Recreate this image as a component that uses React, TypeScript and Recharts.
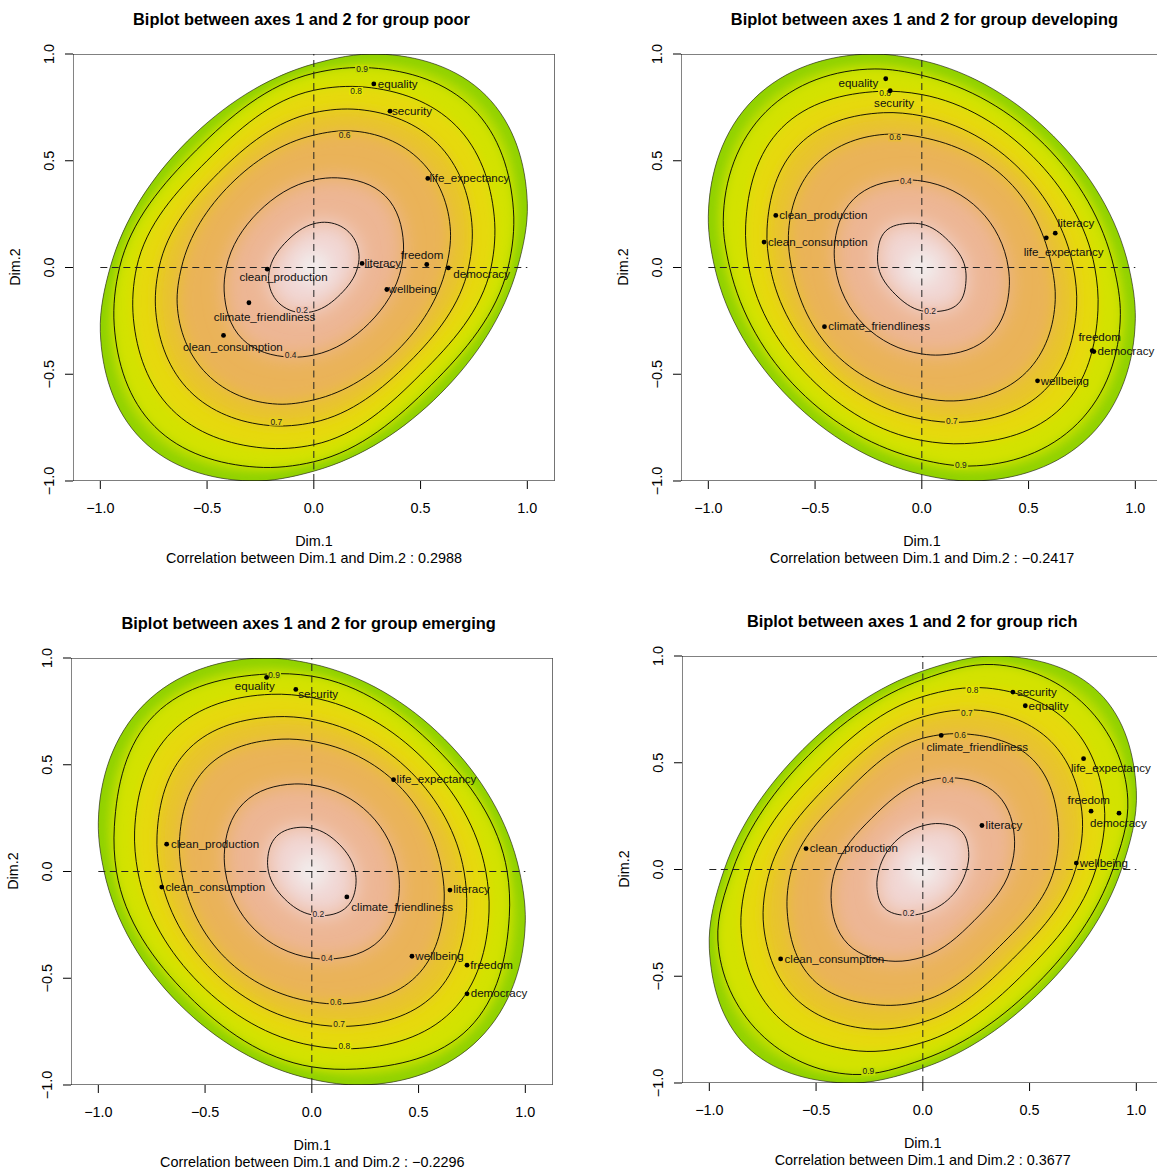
import React from "react";
import { ComposedChart, Scatter, XAxis, YAxis } from "recharts";

type Pt = [number, number];
type Variable = { name: string; x: number; y: number; lx: number; ly: number };
type LevelLabel = { text: string; level: number; x: number; y: number };

// contour levels, outermost first (1.0 = edge of the coloured region)
const LEVELS = [1.0, 0.9, 0.8, 0.7, 0.6, 0.4, 0.2];
const AXIS_TICKS = [-1, -0.5, 0, 0.5, 1];
const AXIS_TICK_LABELS = ["\u22121.0", "\u22120.5", "0.0", "0.5", "1.0"];
const X_LIMIT = 1.128;
const K = 213.5; // px per unit

// ---------- group poor ----------
const poorContours: Pt[][] = [
  [[0.954, 0], [1.0, 0.3], [0.806, 0.806], [0.3, 1.0], [0, 0.954], [-0.592, 0.592], [-0.954, 0], [-1.0, -0.3], [-0.806, -0.806], [-0.3, -1.0], [0, -0.954], [0.592, -0.592]],
  [[0.91, 0], [0.935, 0.27], [0.745, 0.745], [0.27, 0.935], [0, 0.91], [-0.55, 0.55], [-0.91, 0], [-0.935, -0.27], [-0.745, -0.745], [-0.27, -0.935], [0, -0.91], [0.55, -0.55]],
  [[0.83, 0], [0.845, 0.24], [0.665, 0.665], [0.24, 0.845], [0, 0.83], [-0.5, 0.5], [-0.83, 0], [-0.845, -0.24], [-0.665, -0.665], [-0.24, -0.845], [0, -0.83], [0.5, -0.5]],
  [[0.725, 0], [0.74, 0.21], [0.58, 0.58], [0.21, 0.74], [0, 0.725], [-0.445, 0.445], [-0.725, 0], [-0.74, -0.21], [-0.58, -0.58], [-0.21, -0.74], [0, -0.725], [0.445, -0.445]],
  [[0.62, 0], [0.64, 0.17], [0.5, 0.5], [0.17, 0.64], [0, 0.62], [-0.39, 0.39], [-0.62, 0], [-0.64, -0.17], [-0.5, -0.5], [-0.17, -0.64], [0, -0.62], [0.39, -0.39]],
  [[0.41, 0], [0.42, 0.11], [0.335, 0.335], [0.11, 0.42], [0, 0.41], [-0.26, 0.26], [-0.41, 0], [-0.42, -0.11], [-0.335, -0.335], [-0.11, -0.42], [0, -0.41], [0.26, -0.26]],
  [[0.205, 0], [0.212, 0.05], [0.165, 0.165], [0.05, 0.212], [0, 0.205], [-0.125, 0.125], [-0.205, 0], [-0.212, -0.05], [-0.165, -0.165], [-0.05, -0.212], [0, -0.205], [0.125, -0.125]],
];
const poorVariables: Variable[] = [
  { name: "equality", x: 0.281, y: 0.86, lx: 0.393, ly: 0.86 },
  { name: "security", x: 0.357, y: 0.732, lx: 0.46, ly: 0.732 },
  { name: "life_expectancy", x: 0.534, y: 0.417, lx: 0.729, ly: 0.418 },
  { name: "literacy", x: 0.226, y: 0.019, lx: 0.323, ly: 0.022 },
  { name: "freedom", x: 0.529, y: 0.014, lx: 0.507, ly: 0.058 },
  { name: "democracy", x: 0.63, y: -0.002, lx: 0.786, ly: -0.031 },
  { name: "wellbeing", x: 0.342, y: -0.103, lx: 0.463, ly: -0.101 },
  { name: "clean_production", x: -0.218, y: -0.008, lx: -0.142, ly: -0.044 },
  { name: "climate_friendliness", x: -0.304, y: -0.165, lx: -0.231, ly: -0.231 },
  { name: "clean_consumption", x: -0.423, y: -0.318, lx: -0.379, ly: -0.374 },
];
const poorLevelLabels: LevelLabel[] = [
  { text: "0.9", level: 0.9, x: 0.226, y: 0.931 },
  { text: "0.8", level: 0.8, x: 0.198, y: 0.827 },
  { text: "0.6", level: 0.6, x: 0.144, y: 0.619 },
  { text: "0.2", level: 0.2, x: -0.055, y: -0.2 },
  { text: "0.4", level: 0.4, x: -0.109, y: -0.41 },
  { text: "0.7", level: 0.7, x: -0.176, y: -0.722 },
];

// ---------- group developing ----------
const developingContours: Pt[][] = [
  [[1.0, -0.24], [0.97, 0], [0.616, 0.616], [0, 0.97], [-0.24, 1.0], [-0.788, 0.788], [-1.0, 0.24], [-0.97, 0], [-0.616, -0.616], [0, -0.97], [0.24, -1.0], [0.788, -0.788]],
  [[0.93, -0.22], [0.9, 0], [0.575, 0.575], [0, 0.9], [-0.22, 0.93], [-0.73, 0.73], [-0.93, 0.22], [-0.9, 0], [-0.575, -0.575], [0, -0.9], [0.22, -0.93], [0.73, -0.73]],
  [[0.825, -0.2], [0.81, 0], [0.52, 0.52], [0, 0.81], [-0.2, 0.825], [-0.655, 0.655], [-0.825, 0.2], [-0.81, 0], [-0.52, -0.52], [0, -0.81], [0.2, -0.825], [0.655, -0.655]],
  [[0.725, -0.18], [0.71, 0], [0.46, 0.46], [0, 0.71], [-0.18, 0.725], [-0.575, 0.575], [-0.725, 0.18], [-0.71, 0], [-0.46, -0.46], [0, -0.71], [0.18, -0.725], [0.575, -0.575]],
  [[0.625, -0.15], [0.61, 0], [0.405, 0.405], [0, 0.61], [-0.15, 0.625], [-0.49, 0.49], [-0.625, 0.15], [-0.61, 0], [-0.405, -0.405], [0, -0.61], [0.15, -0.625], [0.49, -0.49]],
  [[0.41, -0.085], [0.405, 0], [0.27, 0.27], [0, 0.405], [-0.085, 0.41], [-0.32, 0.32], [-0.41, 0.085], [-0.405, 0], [-0.27, -0.27], [0, -0.405], [0.085, -0.41], [0.32, -0.32]],
  [[0.207, -0.06], [0.203, 0], [0.125, 0.125], [0, 0.203], [-0.06, 0.207], [-0.17, 0.17], [-0.207, 0.06], [-0.203, 0], [-0.125, -0.125], [0, -0.203], [0.06, -0.207], [0.17, -0.17]],
];
const developingVariables: Variable[] = [
  { name: "equality", x: -0.169, y: 0.884, lx: -0.297, ly: 0.862 },
  { name: "security", x: -0.148, y: 0.828, lx: -0.13, ly: 0.769 },
  { name: "clean_production", x: -0.684, y: 0.244, lx: -0.461, ly: 0.244 },
  { name: "clean_consumption", x: -0.739, y: 0.119, lx: -0.487, ly: 0.119 },
  { name: "literacy", x: 0.625, y: 0.161, lx: 0.722, ly: 0.208 },
  { name: "life_expectancy", x: 0.583, y: 0.139, lx: 0.664, ly: 0.072 },
  { name: "climate_friendliness", x: -0.456, y: -0.277, lx: -0.2, ly: -0.275 },
  { name: "freedom", x: 0.798, y: -0.39, lx: 0.833, ly: -0.327 },
  { name: "democracy", x: 0.806, y: -0.394, lx: 0.956, ly: -0.392 },
  { name: "wellbeing", x: 0.542, y: -0.531, lx: 0.67, ly: -0.531 },
];
const developingLevelLabels: LevelLabel[] = [
  { text: "0.8", level: 0.8, x: -0.172, y: 0.819 },
  { text: "0.6", level: 0.6, x: -0.125, y: 0.609 },
  { text: "0.4", level: 0.4, x: -0.075, y: 0.405 },
  { text: "0.2", level: 0.2, x: 0.039, y: -0.203 },
  { text: "0.7", level: 0.7, x: 0.141, y: -0.719 },
  { text: "0.9", level: 0.9, x: 0.183, y: -0.927 },
];

// ---------- group emerging ----------
const emergingContours: Pt[][] = [
  [[1.0, -0.23], [0.973, 0], [0.621, 0.621], [0, 0.973], [-0.23, 1.0], [-0.784, 0.784], [-1.0, 0.23], [-0.973, 0], [-0.621, -0.621], [0, -0.973], [0.23, -1.0], [0.784, -0.784]],
  [[0.925, -0.21], [0.915, 0], [0.58, 0.58], [0, 0.915], [-0.21, 0.925], [-0.735, 0.735], [-0.925, 0.21], [-0.915, 0], [-0.58, -0.58], [0, -0.915], [0.21, -0.925], [0.735, -0.735]],
  [[0.83, -0.19], [0.815, 0], [0.525, 0.525], [0, 0.815], [-0.19, 0.83], [-0.655, 0.655], [-0.83, 0.19], [-0.815, 0], [-0.525, -0.525], [0, -0.815], [0.19, -0.83], [0.655, -0.655]],
  [[0.725, -0.17], [0.713, 0], [0.465, 0.465], [0, 0.713], [-0.17, 0.725], [-0.575, 0.575], [-0.725, 0.17], [-0.713, 0], [-0.465, -0.465], [0, -0.713], [0.17, -0.725], [0.575, -0.575]],
  [[0.62, -0.14], [0.61, 0], [0.405, 0.405], [0, 0.61], [-0.14, 0.62], [-0.49, 0.49], [-0.62, 0.14], [-0.61, 0], [-0.405, -0.405], [0, -0.61], [0.14, -0.62], [0.49, -0.49]],
  [[0.41, -0.08], [0.405, 0], [0.27, 0.27], [0, 0.405], [-0.08, 0.41], [-0.32, 0.32], [-0.41, 0.08], [-0.405, 0], [-0.27, -0.27], [0, -0.405], [0.08, -0.41], [0.32, -0.32]],
  [[0.207, -0.055], [0.203, 0], [0.128, 0.128], [0, 0.203], [-0.055, 0.207], [-0.165, 0.165], [-0.207, 0.055], [-0.203, 0], [-0.128, -0.128], [0, -0.203], [0.055, -0.207], [0.165, -0.165]],
];
const emergingVariables: Variable[] = [
  { name: "equality", x: -0.212, y: 0.909, lx: -0.267, ly: 0.867 },
  { name: "security", x: -0.075, y: 0.853, lx: 0.03, ly: 0.831 },
  { name: "life_expectancy", x: 0.383, y: 0.43, lx: 0.584, ly: 0.433 },
  { name: "clean_production", x: -0.68, y: 0.128, lx: -0.453, ly: 0.131 },
  { name: "clean_consumption", x: -0.703, y: -0.073, lx: -0.452, ly: -0.072 },
  { name: "literacy", x: 0.647, y: -0.087, lx: 0.748, ly: -0.084 },
  { name: "climate_friendliness", x: 0.164, y: -0.119, lx: 0.423, ly: -0.164 },
  { name: "wellbeing", x: 0.469, y: -0.397, lx: 0.598, ly: -0.394 },
  { name: "freedom", x: 0.727, y: -0.439, lx: 0.842, ly: -0.436 },
  { name: "democracy", x: 0.727, y: -0.573, lx: 0.877, ly: -0.57 },
];
const emergingLevelLabels: LevelLabel[] = [
  { text: "0.9", level: 0.9, x: -0.177, y: 0.92 },
  { text: "0.2", level: 0.2, x: 0.03, y: -0.2 },
  { text: "0.4", level: 0.4, x: 0.07, y: -0.406 },
  { text: "0.6", level: 0.6, x: 0.112, y: -0.612 },
  { text: "0.7", level: 0.7, x: 0.128, y: -0.712 },
  { text: "0.8", level: 0.8, x: 0.152, y: -0.817 },
];

// ---------- group rich ----------
const richContours: Pt[][] = [
  [[0.93, 0], [1.0, 0.37], [0.827, 0.827], [0.37, 1.0], [0, 0.93], [-0.562, 0.562], [-0.93, 0], [-1.0, -0.37], [-0.827, -0.827], [-0.37, -1.0], [0, -0.93], [0.562, -0.562]],
  [[0.89, 0], [0.96, 0.33], [0.765, 0.765], [0.33, 0.96], [0, 0.89], [-0.535, 0.535], [-0.89, 0], [-0.96, -0.33], [-0.765, -0.765], [-0.33, -0.96], [0, -0.89], [0.535, -0.535]],
  [[0.81, 0], [0.85, 0.3], [0.685, 0.685], [0.3, 0.85], [0, 0.81], [-0.48, 0.48], [-0.81, 0], [-0.85, -0.3], [-0.685, -0.685], [-0.3, -0.85], [0, -0.81], [0.48, -0.48]],
  [[0.715, 0], [0.745, 0.27], [0.6, 0.6], [0.27, 0.745], [0, 0.715], [-0.42, 0.42], [-0.715, 0], [-0.745, -0.27], [-0.6, -0.6], [-0.27, -0.745], [0, -0.715], [0.42, -0.42]],
  [[0.615, 0], [0.635, 0.2], [0.515, 0.515], [0.2, 0.635], [0, 0.615], [-0.36, 0.36], [-0.615, 0], [-0.635, -0.2], [-0.515, -0.515], [-0.2, -0.635], [0, -0.615], [0.36, -0.36]],
  [[0.41, 0], [0.43, 0.13], [0.35, 0.35], [0.13, 0.43], [0, 0.41], [-0.24, 0.24], [-0.41, 0], [-0.43, -0.13], [-0.35, -0.35], [-0.13, -0.43], [0, -0.41], [0.24, -0.24]],
  [[0.205, 0], [0.215, 0.08], [0.18, 0.18], [0.08, 0.215], [0, 0.205], [-0.13, 0.13], [-0.205, 0], [-0.215, -0.08], [-0.18, -0.18], [-0.08, -0.215], [0, -0.205], [0.13, -0.13]],
];
const richVariables: Variable[] = [
  { name: "security", x: 0.422, y: 0.831, lx: 0.534, ly: 0.831 },
  { name: "equality", x: 0.48, y: 0.767, lx: 0.589, ly: 0.767 },
  { name: "climate_friendliness", x: 0.086, y: 0.628, lx: 0.255, ly: 0.573 },
  { name: "life_expectancy", x: 0.753, y: 0.519, lx: 0.881, ly: 0.477 },
  { name: "freedom", x: 0.788, y: 0.273, lx: 0.777, ly: 0.327 },
  { name: "democracy", x: 0.919, y: 0.264, lx: 0.916, ly: 0.219 },
  { name: "literacy", x: 0.277, y: 0.206, lx: 0.38, ly: 0.209 },
  { name: "clean_production", x: -0.547, y: 0.098, lx: -0.323, ly: 0.1 },
  { name: "wellbeing", x: 0.719, y: 0.03, lx: 0.848, ly: 0.031 },
  { name: "clean_consumption", x: -0.666, y: -0.419, lx: -0.414, ly: -0.419 },
];
const richLevelLabels: LevelLabel[] = [
  { text: "0.8", level: 0.8, x: 0.233, y: 0.839 },
  { text: "0.7", level: 0.7, x: 0.206, y: 0.734 },
  { text: "0.6", level: 0.6, x: 0.175, y: 0.628 },
  { text: "0.4", level: 0.4, x: 0.117, y: 0.417 },
  { text: "0.2", level: 0.2, x: -0.067, y: -0.205 },
  { text: "0.9", level: 0.9, x: -0.255, y: -0.945 },
];

const BOX_CORNERS: Pt[] = [[-X_LIMIT, -1], [X_LIMIT, -1], [X_LIMIT, 1], [-X_LIMIT, 1]];
const H_GUIDE: Pt[] = [[-1, 0], [1, 0]];
const V_GUIDE: Pt[] = [[0, -1], [0, 1]];

type PanelSpec = {
  id: string;
  title: string;
  correlation: string;
  cx: number;
  cy: number;
  titleX: number;
  contours: Pt[][];
  variables: Variable[];
  levelLabels: LevelLabel[];
};

const panels: PanelSpec[] = [
  { id: "poor", title: "Biplot between axes 1 and 2 for group poor", correlation: "Correlation between Dim.1 and Dim.2 : 0.2988", cx: 314, cy: 267.3, titleX: 301.5, contours: poorContours, variables: poorVariables, levelLabels: poorLevelLabels },
  { id: "developing", title: "Biplot between axes 1 and 2 for group developing", correlation: "Correlation between Dim.1 and Dim.2 : \u22120.2417", cx: 922, cy: 267.3, titleX: 924.4, contours: developingContours, variables: developingVariables, levelLabels: developingLevelLabels },
  { id: "emerging", title: "Biplot between axes 1 and 2 for group emerging", correlation: "Correlation between Dim.1 and Dim.2 : \u22120.2296", cx: 312.3, cy: 871, titleX: 308.6, contours: emergingContours, variables: emergingVariables, levelLabels: emergingLevelLabels },
  { id: "rich", title: "Biplot between axes 1 and 2 for group rich", correlation: "Correlation between Dim.1 and Dim.2 : 0.3677", cx: 922.7, cy: 869, titleX: 912.2, contours: richContours, variables: richVariables, levelLabels: richLevelLabels },
];

// R terrain.colors, reversed: 0 -> near white, 1 -> green
function hsv(h: number, s: number, v: number) {
  const c = v * s;
  const hp = h / 60;
  const x = c * (1 - Math.abs((hp % 2) - 1));
  let r = 0, g = 0, b = 0;
  if (hp < 1) [r, g, b] = [c, x, 0];
  else if (hp < 2) [r, g, b] = [x, c, 0];
  else [r, g, b] = [0, c, x];
  const m = v - c;
  return `rgb(${Math.round((r + m) * 255)},${Math.round((g + m) * 255)},${Math.round((b + m) * 255)})`;
}
function terrain(level: number) {
  const t = Math.min(1, Math.max(0, 1 - 0.625 * level));
  if (t < 0.5) {
    const u = t / 0.5;
    return hsv(120 - 60 * u, 1, 0.65 + 0.25 * u);
  }
  const w = (t - 0.5) / 0.5;
  return hsv(60 - 60 * w, 1 - w, 0.9 + 0.05 * w);
}

// closed smooth path through the projected points (Bessel tangents, arc-like handles)
type XY = { x: number; y: number };
function smoothClosed(pts: XY[]) {
  const n = pts.length;
  const dist = (a: XY, b: XY) => Math.hypot(b.x - a.x, b.y - a.y) || 1e-6;
  const tan = pts.map((p, i) => {
    const prev = pts[(i - 1 + n) % n];
    const next = pts[(i + 1) % n];
    const d1 = dist(prev, p);
    const d2 = dist(p, next);
    const vx = ((p.x - prev.x) / d1) * (d2 / (d1 + d2)) + ((next.x - p.x) / d2) * (d1 / (d1 + d2));
    const vy = ((p.y - prev.y) / d1) * (d2 / (d1 + d2)) + ((next.y - p.y) / d2) * (d1 / (d1 + d2));
    const m = Math.hypot(vx, vy) || 1;
    return { x: vx / m, y: vy / m };
  });
  let d = `M${pts[0].x},${pts[0].y}`;
  for (let i = 0; i < n; i++) {
    const a = pts[i];
    const b = pts[(i + 1) % n];
    const c = dist(a, b);
    const ux = (b.x - a.x) / c;
    const uy = (b.y - a.y) / c;
    const ta = tan[i];
    const tb = tan[(i + 1) % n];
    const ca = Math.max(0.5, ta.x * ux + ta.y * uy);
    const cb = Math.max(0.5, tb.x * ux + tb.y * uy);
    const ka = (2 * c) / (3 * (1 + ca));
    const kb = (2 * c) / (3 * (1 + cb));
    d += `C${a.x + ta.x * ka},${a.y + ta.y * ka} ${b.x - tb.x * kb},${b.y - tb.y * kb} ${b.x},${b.y}`;
  }
  return d + "Z";
}

const BLURS = [4, 5, 6, 8, 10];
const FILL_BLUR = [0, 5, 5, 6, 8, 10, 10];

function EdgeFill(props: any) {
  const { points, pid } = props;
  if (!points || points.length < 3) return null;
  const d = smoothClosed(points);
  return (
    <g>
      <defs>
        <clipPath id={`${pid}-clip`}>
          <path d={d} />
        </clipPath>
        {BLURS.map((s) => (
          <filter key={s} id={`${pid}-blur${s}`} filterUnits="userSpaceOnUse" x={-200} y={-200} width={1200} height={1200}>
            <feGaussianBlur stdDeviation={s} />
          </filter>
        ))}
      </defs>
      <path d={d} fill={terrain(0.95)} stroke="none" />
      <path d={d} fill="none" stroke={terrain(1.05)} strokeWidth={18} filter={`url(#${pid}-blur5)`} clipPath={`url(#${pid}-clip)`} />
    </g>
  );
}

function BandFill(props: any) {
  const { points, pid, paint, blur } = props;
  if (!points || points.length < 3) return null;
  return <path d={smoothClosed(points)} fill={paint} stroke="none" filter={`url(#${pid}-blur${blur})`} clipPath={`url(#${pid}-clip)`} />;
}

function ContourStroke(props: any) {
  const { points, edge, weight } = props;
  if (!points || points.length < 3) return null;
  return <path d={smoothClosed(points)} fill="none" stroke={edge} strokeWidth={weight} />;
}

function FramePath(props: any) {
  const { points } = props;
  if (!points || points.length < 2) return null;
  const d = points.map((p: XY, i: number) => `${i === 0 ? "M" : "L"}${p.x},${p.y}`).join("") + "Z";
  return <path d={d} fill="none" stroke="#000" strokeWidth={1} />;
}

function GuidePath(props: any) {
  const { points } = props;
  if (!points || points.length < 2) return null;
  return <line x1={points[0].x} y1={points[0].y} x2={points[1].x} y2={points[1].y} stroke="#222" strokeWidth={1} strokeDasharray="7 4.5" />;
}

const NoMark = () => <g />;

function XTick(props: any) {
  const { x, y, payload } = props;
  const label = AXIS_TICK_LABELS[AXIS_TICKS.indexOf(payload.value)];
  return (
    <text x={x} y={y + 17} textAnchor="middle" dominantBaseline="central" fontSize={14.4} fill="#000">
      {label}
    </text>
  );
}

function YTick(props: any) {
  const { x, y, payload } = props;
  const label = AXIS_TICK_LABELS[AXIS_TICKS.indexOf(payload.value)];
  return (
    <text transform={`translate(${x - 14},${y}) rotate(-90)`} textAnchor="middle" dominantBaseline="central" fontSize={14.4} fill="#000">
      {label}
    </text>
  );
}

const toXY = (arr: Pt[]) => arr.map(([x, y]) => ({ x, y }));

const textStyle: React.CSSProperties = {
  position: "absolute",
  transform: "translate(-50%, -50%)",
  whiteSpace: "nowrap",
  lineHeight: 1,
  color: "#000",
};

const M_TOP = 20;
const M_RIGHT = 20;

function BiplotPanel({ panel }: { panel: PanelSpec }) {
  const { id, cx, cy } = panel;
  const width = 2 * X_LIMIT * K + 60 + M_RIGHT;
  const height = 2 * K + M_TOP + 40;
  const left = cx - X_LIMIT * K - 60;
  const top = cy - K - M_TOP;
  const points = panel.variables.map((v) => ({ x: v.x, y: v.y, name: v.name }));
  const labels = panel.variables.map((v) => ({ x: v.lx, y: v.ly, name: v.name }));

  return (
    <>
      <div style={{ position: "absolute", left, top, width, height }}>
        <ComposedChart width={width} height={height} margin={{ top: M_TOP, right: M_RIGHT, bottom: 0, left: 0 }}>
          <XAxis
            type="number"
            dataKey="x"
            domain={[-X_LIMIT, X_LIMIT]}
            ticks={AXIS_TICKS}
            interval={0}
            allowDataOverflow
            axisLine={false}
            tickLine={{ stroke: "#000" }}
            tickSize={8}
            height={40}
            tick={<XTick />}
          />
          <YAxis
            type="number"
            dataKey="y"
            domain={[-1, 1]}
            ticks={AXIS_TICKS}
            interval={0}
            allowDataOverflow
            axisLine={false}
            tickLine={{ stroke: "#000" }}
            tickSize={8}
            width={60}
            tick={<YTick />}
          />
          {panel.contours.map((c, i) =>
            i === 0 ? (
              <Scatter key={`fill-${i}`} data={toXY(c)} shape={NoMark} line={<EdgeFill pid={id} />} isAnimationActive={false} />
            ) : (
              <Scatter
                key={`fill-${i}`}
                data={toXY(c)}
                shape={NoMark}
                line={<BandFill pid={id} paint={terrain((LEVELS[i] + (LEVELS[i + 1] ?? 0)) / 2)} blur={FILL_BLUR[i]} />}
                isAnimationActive={false}
              />
            )
          )}
          <Scatter
            data={[{ x: 0, y: 0 }]}
            isAnimationActive={false}
            shape={(p: any) => <circle cx={p.cx} cy={p.cy} r={16} fill={terrain(0)} filter={`url(#${id}-blur10)`} />}
          />
          {panel.contours.map((c, i) => (
            <Scatter
              key={`line-${i}`}
              data={toXY(c)}
              shape={NoMark}
              line={<ContourStroke edge={i === 0 ? "#333" : "#000"} weight={i === 0 ? 0.7 : 0.9} />}
              isAnimationActive={false}
            />
          ))}
          <Scatter
            data={panel.levelLabels}
            isAnimationActive={false}
            shape={(p: any) => (
              <g>
                <rect x={p.cx - 7} y={p.cy - 4} width={14} height={8} fill={terrain(p.payload.level)} />
                <text x={p.cx} y={p.cy} textAnchor="middle" dominantBaseline="central" fontSize={8.4} fill="#222">
                  {p.payload.text}
                </text>
              </g>
            )}
          />
          <Scatter data={toXY(H_GUIDE)} shape={NoMark} line={<GuidePath />} isAnimationActive={false} />
          <Scatter data={toXY(V_GUIDE)} shape={NoMark} line={<GuidePath />} isAnimationActive={false} />
          <Scatter data={toXY(BOX_CORNERS)} shape={NoMark} line={<FramePath />} isAnimationActive={false} />
          <Scatter
            data={points}
            isAnimationActive={false}
            shape={(p: any) => <circle cx={p.cx} cy={p.cy} r={2.4} fill="#000" />}
          />
          <Scatter
            data={labels}
            isAnimationActive={false}
            shape={(p: any) => (
              <text x={p.cx} y={p.cy} textAnchor="middle" dominantBaseline="central" fontSize={11.6} fill="#111">
                {p.payload.name}
              </text>
            )}
          />
        </ComposedChart>
      </div>
      <div style={{ ...textStyle, left: panel.titleX, top: cy - K - 35, fontWeight: "bold", fontSize: 16.4 }}>{panel.title}</div>
      <div style={{ ...textStyle, left: cx, top: cy + K + 60.5, fontSize: 14.4 }}>Dim.1</div>
      <div style={{ ...textStyle, left: cx, top: cy + K + 77, fontSize: 14.4 }}>{panel.correlation}</div>
      <div style={{ ...textStyle, left: cx - X_LIMIT * K - 58, top: cy, fontSize: 14.4, transform: "translate(-50%, -50%) rotate(-90deg)" }}>
        Dim.2
      </div>
    </>
  );
}

export default function App() {
  return (
    <div
      style={{
        position: "fixed",
        left: 0,
        top: 0,
        width: 1157,
        height: 1170,
        overflow: "hidden",
        background: "#fff",
        fontFamily: '"Liberation Sans", Arial, Helvetica, sans-serif',
      }}
    >
      {panels.map((p) => (
        <BiplotPanel key={p.id} panel={p} />
      ))}
    </div>
  );
}
